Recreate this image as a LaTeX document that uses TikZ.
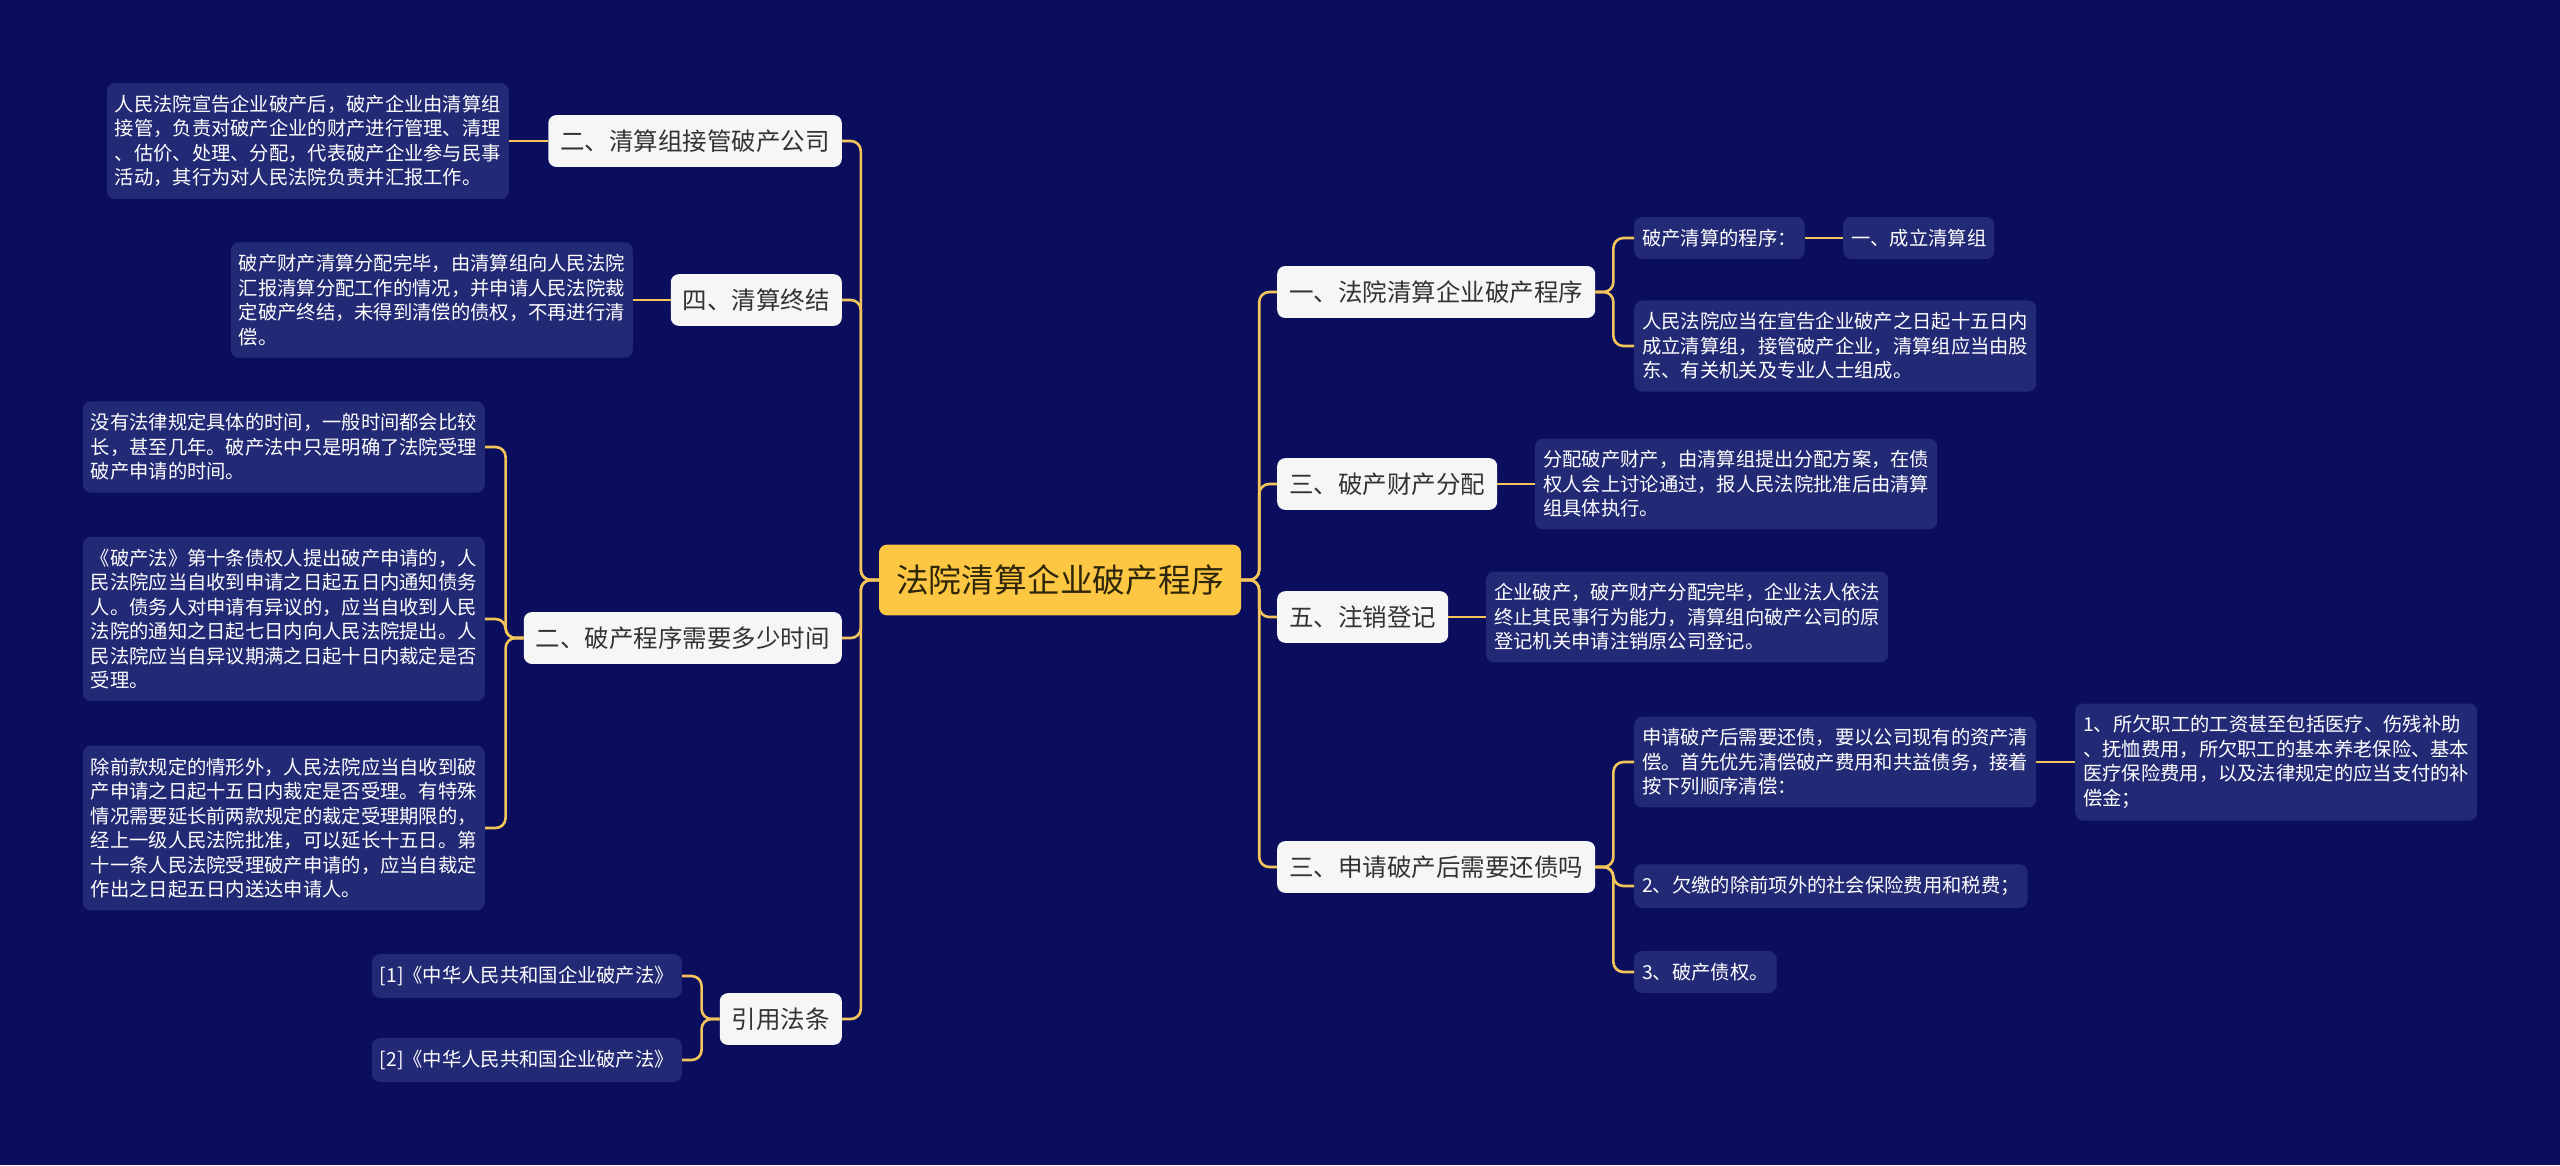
\documentclass[tikz,border=0pt]{standalone}
\usepackage{fontspec}
\setmainfont{Noto Sans CJK SC}
\definecolor{bgc}{HTML}{0A0E5C}
\definecolor{leafc}{HTML}{232A75}
\definecolor{linec}{HTML}{F3C55A}
\definecolor{rootc}{HTML}{FDC744}
\definecolor{roottxt}{HTML}{2E2608}
\definecolor{l1c}{HTML}{F6F6F6}
\definecolor{l1txt}{HTML}{333333}
\tikzset{
  rootbox/.style={fill=rootc, text=roottxt, rounded corners=8pt, inner xsep=17pt, inner ysep=20pt,
    font=\fontsize{32.8}{38}\selectfont},
  topicbox/.style={fill=l1c, text=l1txt, rounded corners=8pt, inner xsep=12pt, inner ysep=14.5pt,
    font=\fontsize{24.5}{29}\selectfont},
  leafbox/.style={fill=leafc, text=white, rounded corners=8pt, inner xsep=8pt, inner ysep=12pt,
    align=left, font=\fontsize{19.3}{24.5}\selectfont},
  conn/.style={draw=linec, line width=2.6pt, rounded corners=10pt}
}
\begin{document}
\begin{tikzpicture}[x=1pt,y=-1pt]
\fill[bgc] (0,0) rectangle (2560,1165);
\useasboundingbox (0,0) rectangle (2560,1165);

% root
\node[rootbox] (root) at (1060,580) {法院清算企业破产程序};

% left topics
\node[topicbox, anchor=east] (A) at (842,141) {二、清算组接管破产公司};
\node[topicbox, anchor=east] (B) at (842,300) {四、清算终结};
\node[topicbox, anchor=east] (C) at (842,638) {二、破产程序需要多少时间};
\node[topicbox, anchor=east] (D) at (842,1019) {引用法条};

% right topics
\node[topicbox, anchor=west] (E) at (1277,292) {一、法院清算企业破产程序};
\node[topicbox, anchor=west] (F) at (1277,484) {三、破产财产分配};
\node[topicbox, anchor=west] (G) at (1277,617) {五、注销登记};
\node[topicbox, anchor=west] (H) at (1277,867) {三、申请破产后需要还债吗};

% left leaves
\node[leafbox, anchor=east] (A1) at (509,141) {人民法院宣告企业破产后，破产企业由清算组\\接管，负责对破产企业的财产进行管理、清理\\、估价、处理、分配，代表破产企业参与民事\\活动，其行为对人民法院负责并汇报工作。};
\node[leafbox, anchor=east] (B1) at (633,300) {破产财产清算分配完毕，由清算组向人民法院\\汇报清算分配工作的情况，并申请人民法院裁\\定破产终结，未得到清偿的债权，不再进行清\\偿。};
\node[leafbox, anchor=east] (C1) at (485,447) {没有法律规定具体的时间，一般时间都会比较\\长，甚至几年。破产法中只是明确了法院受理\\破产申请的时间。};
\node[leafbox, anchor=east] (C2) at (485,619) {《破产法》第十条债权人提出破产申请的，人\\民法院应当自收到申请之日起五日内通知债务\\人。债务人对申请有异议的，应当自收到人民\\法院的通知之日起七日内向人民法院提出。人\\民法院应当自异议期满之日起十日内裁定是否\\受理。};
\node[leafbox, anchor=east] (C3) at (485,828) {除前款规定的情形外，人民法院应当自收到破\\产申请之日起十五日内裁定是否受理。有特殊\\情况需要延长前两款规定的裁定受理期限的，\\经上一级人民法院批准，可以延长十五日。第\\十一条人民法院受理破产申请的，应当自裁定\\作出之日起五日内送达申请人。};
\node[leafbox, anchor=east] (D1) at (682,976) {[1]《中华人民共和国企业破产法》};
\node[leafbox, anchor=east] (D2) at (682,1060) {[2]《中华人民共和国企业破产法》};

% right leaves
\node[leafbox, anchor=west] (E1) at (1634,238) {破产清算的程序：};
\node[leafbox, anchor=west] (E1a) at (1843,238) {一、成立清算组};
\node[leafbox, anchor=west] (E2) at (1634,346) {人民法院应当在宣告企业破产之日起十五日内\\成立清算组，接管破产企业，清算组应当由股\\东、有关机关及专业人士组成。};
\node[leafbox, anchor=west] (F1) at (1535,484) {分配破产财产，由清算组提出分配方案，在债\\权人会上讨论通过，报人民法院批准后由清算\\组具体执行。};
\node[leafbox, anchor=west] (G1) at (1486,617) {企业破产，破产财产分配完毕，企业法人依法\\终止其民事行为能力，清算组向破产公司的原\\登记机关申请注销原公司登记。};
\node[leafbox, anchor=west] (H1) at (1634,762) {申请破产后需要还债，要以公司现有的资产清\\偿。首先优先清偿破产费用和共益债务，接着\\按下列顺序清偿：};
\node[leafbox, anchor=west] (H1a) at (2075,762) {1、所欠职工的工资甚至包括医疗、伤残补助\\、抚恤费用，所欠职工的基本养老保险、基本\\医疗保险费用，以及法律规定的应当支付的补\\偿金；};
\node[leafbox, anchor=west] (H2) at (1634,886) {2、欠缴的除前项外的社会保险费用和税费；};
\node[leafbox, anchor=west] (H3) at (1634,972) {3、破产债权。};

% connectors root -> topics
\foreach \t in {A,B,C,D} {
  \draw[conn] (root.west) -- ++(-18,0) |- (\t.east);
}
\foreach \t in {E,F,G,H} {
  \draw[conn] (root.east) -- ++(18,0) |- (\t.west);
}
% topics -> leaves
\draw[conn] (A.west) -- (A1.east);
\draw[conn] (B.west) -- (B1.east);
\foreach \t in {C1,C2,C3} {
  \draw[conn] (C.west) -- ++(-18,0) |- (\t.east);
}
\foreach \t in {D1,D2} {
  \draw[conn] (D.west) -- ++(-18,0) |- (\t.east);
}
\foreach \t in {E1,E2} {
  \draw[conn] (E.east) -- ++(18,0) |- (\t.west);
}
\draw[conn] (E1.east) -- (E1a.west);
\draw[conn] (F.east) -- (F1.west);
\draw[conn] (G.east) -- (G1.west);
\foreach \t in {H1,H2,H3} {
  \draw[conn] (H.east) -- ++(18,0) |- (\t.west);
}
\draw[conn] (H1.east) -- (H1a.west);
\end{tikzpicture}
\end{document}
